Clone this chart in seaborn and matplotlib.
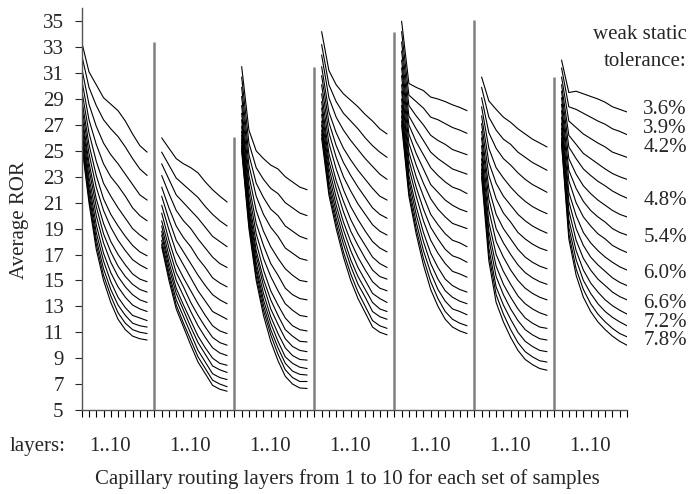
import matplotlib
matplotlib.use("Agg")
import numpy as np
import pandas as pd
import seaborn as sns
import matplotlib.pyplot as plt
from matplotlib import transforms

# --- data: 7 sets of samples, 15 tolerance curves, 10 layers each ---
layers = list(range(1, 11))
tolerances = ["3.6%", "3.9%", "4.2%", "4.5%", "4.8%", "5.1%", "5.4%", "5.7%",
              "6.0%", "6.3%", "6.6%", "6.9%", "7.2%", "7.5%", "7.8%"]
labelled = ["3.6%", "3.9%", "4.2%", "4.8%", "5.4%", "6.0%", "6.6%", "7.2%", "7.8%"]

g1 = [
    [33.4, 31.1, 30.1, 29.1, 28.6, 28.1, 27.3, 26.3, 25.4, 24.9],
    [32.4, 29.9, 28.5, 27.4, 26.7, 26.1, 25.3, 24.4, 23.6, 23.1],
    [31.4, 28.6, 26.9, 25.6, 24.7, 24.0, 23.2, 22.4, 21.6, 21.2],
    [30.5, 27.4, 25.5, 24.0, 23.0, 22.3, 21.5, 20.6, 20.0, 19.6],
    [29.7, 26.4, 24.2, 22.5, 21.5, 20.6, 19.8, 19.0, 18.5, 18.1],
    [29.0, 25.5, 23.1, 21.3, 20.1, 19.2, 18.4, 17.7, 17.2, 16.9],
    [28.5, 24.8, 22.2, 20.4, 19.1, 18.1, 17.3, 16.6, 16.2, 15.9],
    [27.9, 24.1, 21.3, 19.4, 18.0, 17.0, 16.2, 15.5, 15.1, 14.9],
    [27.5, 23.6, 20.7, 18.6, 17.2, 16.1, 15.3, 14.7, 14.3, 14.1],
    [27.1, 23.0, 20.0, 17.9, 16.4, 15.3, 14.5, 13.9, 13.5, 13.3],
    [26.7, 22.5, 19.3, 17.1, 15.6, 14.5, 13.7, 13.1, 12.8, 12.6],
    [26.3, 22.1, 18.7, 16.5, 14.9, 13.7, 12.9, 12.3, 12.1, 11.9],
    [26.0, 21.7, 18.2, 15.9, 14.3, 13.1, 12.3, 11.7, 11.5, 11.4],
    [25.7, 21.3, 17.8, 15.4, 13.8, 12.5, 11.7, 11.2, 11.0, 10.9],
    [25.5, 21.0, 17.4, 15.0, 13.3, 12.0, 11.2, 10.7, 10.5, 10.4],
]
g2 = [
    [26.0, 25.2, 24.4, 24.0, 23.7, 23.3, 22.6, 22.0, 21.5, 21.05],
    [24.9, 23.9, 22.9, 22.4, 21.9, 21.4, 20.7, 20.1, 19.6, 19.2],
    [24.0, 22.8, 21.6, 21.0, 20.4, 19.8, 19.1, 18.4, 18.0, 17.6],
    [23.1, 21.7, 20.4, 19.6, 19.0, 18.2, 17.5, 16.8, 16.3, 16.0],
    [22.2, 20.6, 19.2, 18.3, 17.6, 16.7, 16.0, 15.2, 14.8, 14.5],
    [21.5, 19.7, 18.1, 17.2, 16.3, 15.4, 14.6, 13.9, 13.5, 13.2],
    [20.8, 18.9, 17.2, 16.2, 15.2, 14.2, 13.4, 12.6, 12.3, 12.0],
    [20.2, 18.1, 16.3, 15.2, 14.2, 13.2, 12.3, 11.5, 11.1, 10.9],
    [19.6, 17.5, 15.6, 14.5, 13.3, 12.3, 11.4, 10.6, 10.2, 10.0],
    [19.2, 16.9, 15.0, 13.8, 12.6, 11.5, 10.6, 9.8, 9.4, 9.2],
    [18.8, 16.4, 14.4, 13.1, 11.9, 10.7, 9.8, 9.0, 8.6, 8.45],
    [18.5, 16.0, 14.0, 12.7, 11.4, 10.2, 9.3, 8.4, 8.1, 7.9],
    [18.1, 15.6, 13.5, 12.2, 10.9, 9.6, 8.7, 7.8, 7.5, 7.35],
    [17.8, 15.3, 13.1, 11.7, 10.4, 9.1, 8.2, 7.3, 7.0, 6.8],
    [17.6, 15.0, 12.8, 11.4, 10.0, 8.7, 7.8, 6.9, 6.6, 6.45],
]
g3 = [
    [31.5, 26.6, 25.0, 24.4, 23.9, 23.6, 23.0, 22.6, 22.2, 22.0],
    [30.7, 25.6, 23.7, 22.8, 22.1, 21.7, 21.0, 20.6, 20.2, 20.0],
    [29.9, 24.7, 22.5, 21.4, 20.5, 20.0, 19.2, 18.8, 18.4, 18.2],
    [29.2, 23.9, 21.5, 20.1, 19.1, 18.4, 17.5, 17.1, 16.7, 16.55],
    [28.5, 23.1, 20.4, 18.8, 17.6, 16.7, 15.9, 15.4, 15.0, 14.9],
    [27.9, 22.4, 19.4, 17.7, 16.3, 15.4, 14.4, 13.9, 13.6, 13.5],
    [27.4, 21.8, 18.6, 16.7, 15.3, 14.2, 13.2, 12.7, 12.3, 12.2],
    [26.9, 21.2, 17.9, 15.8, 14.2, 13.1, 12.1, 11.5, 11.2, 11.1],
    [26.5, 20.8, 17.3, 15.1, 13.5, 12.3, 11.2, 10.7, 10.3, 10.25],
    [26.2, 20.4, 16.9, 14.6, 12.8, 11.6, 10.5, 9.9, 9.6, 9.5],
    [25.9, 20.1, 16.4, 14.0, 12.2, 10.9, 9.8, 9.2, 8.9, 8.85],
    [25.7, 19.8, 16.0, 13.5, 11.7, 10.3, 9.1, 8.6, 8.3, 8.2],
    [25.4, 19.5, 15.7, 13.1, 11.2, 9.8, 8.6, 8.0, 7.75, 7.7],
    [25.2, 19.3, 15.3, 12.7, 10.8, 9.3, 8.1, 7.5, 7.2, 7.2],
    [25.0, 19.0, 15.0, 12.3, 10.3, 8.8, 7.6, 7.0, 6.7, 6.66],
]
g4 = [
    [34.2, 31.2, 30.1, 29.4, 28.9, 28.4, 27.8, 27.3, 26.7, 26.3],
    [33.2, 30.1, 28.8, 27.9, 27.3, 26.7, 26.0, 25.4, 24.9, 24.5],
    [32.4, 29.1, 27.6, 26.6, 25.8, 25.1, 24.4, 23.8, 23.2, 22.8],
    [31.5, 28.0, 26.4, 25.2, 24.3, 23.5, 22.8, 22.1, 21.5, 21.2],
    [30.8, 27.2, 25.4, 24.1, 23.1, 22.2, 21.4, 20.6, 20.1, 19.8],
    [30.1, 26.4, 24.5, 23.0, 21.9, 20.9, 20.1, 19.3, 18.8, 18.5],
    [29.4, 25.6, 23.6, 22.0, 20.7, 19.7, 18.8, 18.0, 17.5, 17.2],
    [28.8, 24.8, 22.7, 21.1, 19.7, 18.6, 17.7, 16.8, 16.3, 16.0],
    [28.3, 24.2, 22.1, 20.3, 18.8, 17.7, 16.7, 15.8, 15.3, 15.1],
    [27.8, 23.7, 21.4, 19.5, 18.0, 16.8, 15.8, 14.9, 14.4, 14.2],
    [27.3, 23.2, 20.8, 18.9, 17.3, 16.0, 15.0, 14.0, 13.6, 13.3],
    [27.0, 22.7, 20.3, 18.3, 16.6, 15.3, 14.3, 13.3, 12.8, 12.6],
    [26.6, 22.3, 19.8, 17.8, 16.1, 14.7, 13.7, 12.6, 12.2, 12.0],
    [26.3, 21.9, 19.4, 17.2, 15.5, 14.1, 13.0, 11.9, 11.5, 11.3],
    [26.0, 21.6, 19.0, 16.8, 15.0, 13.6, 12.5, 11.4, 11.0, 10.8],
]
g5 = [
    [35.0, 30.2, 29.9, 29.65, 29.15, 29.0, 28.8, 28.55, 28.35, 28.1],
    [34.2, 29.3, 28.8, 28.3, 27.6, 27.4, 27.1, 26.8, 26.6, 26.35],
    [33.4, 28.5, 27.7, 27.0, 26.2, 25.8, 25.5, 25.1, 24.9, 24.7],
    [32.7, 27.7, 26.7, 25.8, 24.9, 24.4, 24.0, 23.6, 23.4, 23.2],
    [32.0, 27.0, 25.7, 24.7, 23.7, 23.1, 22.6, 22.2, 22.0, 21.7],
    [31.4, 26.3, 24.8, 23.6, 22.4, 21.8, 21.2, 20.8, 20.5, 20.3],
    [30.8, 25.6, 23.9, 22.5, 21.3, 20.5, 19.9, 19.4, 19.2, 19.0],
    [30.1, 24.9, 23.0, 21.5, 20.1, 19.3, 18.6, 18.1, 17.9, 17.6],
    [29.6, 24.3, 22.2, 20.5, 19.1, 18.2, 17.4, 16.9, 16.7, 16.4],
    [29.0, 23.7, 21.5, 19.6, 18.1, 17.1, 16.3, 15.7, 15.5, 15.25],
    [28.5, 23.1, 20.7, 18.7, 17.1, 16.0, 15.1, 14.6, 14.3, 14.1],
    [28.1, 22.7, 20.1, 18.0, 16.3, 15.1, 14.2, 13.7, 13.4, 13.2],
    [27.7, 22.2, 19.5, 17.3, 15.6, 14.3, 13.4, 12.8, 12.6, 12.35],
    [27.3, 21.8, 19.0, 16.7, 14.9, 13.6, 12.6, 12.0, 11.7, 11.5],
    [27.0, 21.5, 18.6, 16.2, 14.3, 13.0, 12.0, 11.4, 11.1, 10.9],
]
g6 = [
    [30.7, 28.85, 28.2, 27.6, 27.2, 26.7, 26.3, 25.9, 25.6, 25.3],
    [29.9, 27.6, 26.6, 25.9, 25.5, 24.9, 24.5, 24.1, 23.8, 23.5],
    [29.1, 26.4, 25.2, 24.4, 23.9, 23.3, 22.8, 22.4, 22.1, 21.8],
    [28.4, 25.2, 23.7, 22.9, 22.2, 21.6, 21.1, 20.7, 20.4, 20.15],
    [27.7, 24.1, 22.5, 21.5, 20.8, 20.1, 19.6, 19.2, 18.9, 18.65],
    [27.1, 23.1, 21.3, 20.2, 19.5, 18.7, 18.2, 17.8, 17.5, 17.3],
    [26.5, 22.1, 20.1, 19.0, 18.2, 17.4, 16.8, 16.4, 16.1, 15.9],
    [26.0, 21.3, 19.0, 17.9, 17.0, 16.2, 15.6, 15.2, 14.9, 14.7],
    [25.4, 20.4, 18.0, 16.8, 15.8, 15.0, 14.4, 14.0, 13.7, 13.5],
    [24.9, 19.5, 17.0, 15.7, 14.7, 13.8, 13.2, 12.8, 12.5, 12.3],
    [24.4, 18.8, 16.1, 14.7, 13.7, 12.8, 12.1, 11.7, 11.4, 11.3],
    [24.0, 18.2, 15.3, 13.9, 12.8, 11.9, 11.2, 10.8, 10.5, 10.4],
    [23.6, 17.5, 14.5, 13.1, 12.0, 11.0, 10.3, 9.9, 9.6, 9.5],
    [23.3, 17.0, 13.9, 12.4, 11.2, 10.2, 9.5, 9.1, 8.8, 8.7],
    [23.0, 16.5, 13.3, 11.8, 10.6, 9.6, 8.9, 8.5, 8.2, 8.07],
]
g7 = [
    [32.0, 29.5, 29.6, 29.4, 29.2, 29.0, 28.75, 28.4, 28.2, 28.0],
    [31.4, 28.4, 28.2, 27.9, 27.6, 27.3, 27.05, 26.7, 26.5, 26.25],
    [30.7, 27.3, 26.8, 26.3, 25.95, 25.6, 25.3, 24.9, 24.7, 24.5],
    [30.1, 26.2, 25.5, 24.8, 24.4, 24.0, 23.6, 23.25, 23.0, 22.8],
    [29.6, 25.3, 24.4, 23.6, 23.1, 22.65, 22.3, 21.9, 21.6, 21.35],
    [29.1, 24.4, 23.2, 22.3, 21.7, 21.2, 20.8, 20.4, 20.1, 19.9],
    [28.6, 23.5, 22.1, 21.1, 20.4, 19.9, 19.5, 19.0, 18.7, 18.5],
    [28.1, 22.7, 21.0, 19.9, 19.2, 18.6, 18.2, 17.7, 17.4, 17.15],
    [27.6, 21.8, 20.0, 18.7, 17.9, 17.3, 16.8, 16.4, 16.05, 15.8],
    [27.15, 21.1, 19.0, 17.7, 16.8, 16.2, 15.7, 15.2, 14.85, 14.6],
    [26.75, 20.4, 18.1, 16.7, 15.8, 15.1, 14.6, 14.1, 13.75, 13.5],
    [26.4, 19.7, 17.3, 15.8, 14.8, 14.1, 13.5, 13.05, 12.7, 12.4],
    [26.0, 19.1, 16.6, 15.0, 14.0, 13.2, 12.6, 12.15, 11.8, 11.5],
    [25.7, 18.6, 15.9, 14.3, 13.2, 12.4, 11.8, 11.3, 10.9, 10.65],
    [25.5, 18.2, 15.4, 13.7, 12.6, 11.8, 11.2, 10.7, 10.3, 10.0],
]
groups = [g1, g2, g3, g4, g5, g6, g7]

# grey separator bars between sets (height of each bar)
sep_heights = [33.4, 26.06, 31.5, 34.2, 35.1, 30.7]

# --- long form table ---
rows = []
for gi, grp in enumerate(groups):
    for ti, curve in enumerate(grp):
        for layer, v in zip(layers, curve):
            rows.append({"pos": gi * 11 + layer - 1, "ror": v,
                         "curve": f"{gi}-{tolerances[ti]}"})
df = pd.DataFrame(rows)

sns.set_style("ticks")
plt.rcParams['font.family'] = ['Liberation Serif', 'DejaVu Serif']
FS = 15

W, H = 691, 494
fig, ax = plt.subplots(figsize=(W / 100, H / 100), dpi=100)
fig.subplots_adjust(left=81.7 / W, right=627 / W, bottom=1 - 410 / H, top=1 - 8.3 / H)

sns.lineplot(data=df, x="pos", y="ror", units="curve", estimator=None,
             color="black", lw=0.8, ax=ax, legend=False)

sep_x = [gi * 11 + 10 for gi in range(len(sep_heights))]
ax.vlines(sep_x, 5, sep_heights, colors="#808080", lw=1.8, zorder=3)

ax.set_xlim(0, 75)
ax.set_ylim(5, 36)
ax.set_xticks(np.arange(0, 76))
ax.set_xticklabels([])
ax.set_yticks(range(5, 36, 2))
ax.tick_params(axis="x", direction="out", length=5, width=0.8, colors="black")
ax.tick_params(axis="y", direction="out", length=5, width=0.8, labelsize=FS, pad=8)
sns.despine(ax=ax)
for s in ["left", "bottom"]:
    ax.spines[s].set_color("#555555")
    ax.spines[s].set_linewidth(1.0)

ax.set_xlabel("")
ax.set_ylabel("Average ROR", fontsize=FS)
ax.yaxis.set_label_coords(-0.097, 0.473)

# layer range labels under each set
trans = transforms.blended_transform_factory(ax.transData, fig.transFigure)
for gi in range(len(groups)):
    ax.text(gi * 11 + 3.9, 1 - 451 / H, "1..10", transform=trans,
            ha="center", va="baseline", fontsize=FS)
fig.text(10 / W, 1 - 451 / H, "layers:", ha="left", va="baseline", fontsize=FS)
fig.text(347 / W, 1 - 484 / H, "Capillary routing layers from 1 to 10 for each set of samples",
         ha="center", va="baseline", fontsize=FS)

# tolerance labels on the right
fig.text(687 / W, 1 - 39 / H, "weak static", ha="right", va="baseline", fontsize=FS)
fig.text(687 / W, 1 - 66 / H, "tolerance:", ha="right", va="baseline", fontsize=FS)
label_px = [110, 128.5, 147, 200, 238, 274, 303, 322, 340.5]
for lab, ypx in zip(labelled, label_px):
    fig.text(687 / W, 1 - ypx / H, lab, ha="right", va="center", fontsize=FS)

fig.savefig("out.png", dpi=100)
